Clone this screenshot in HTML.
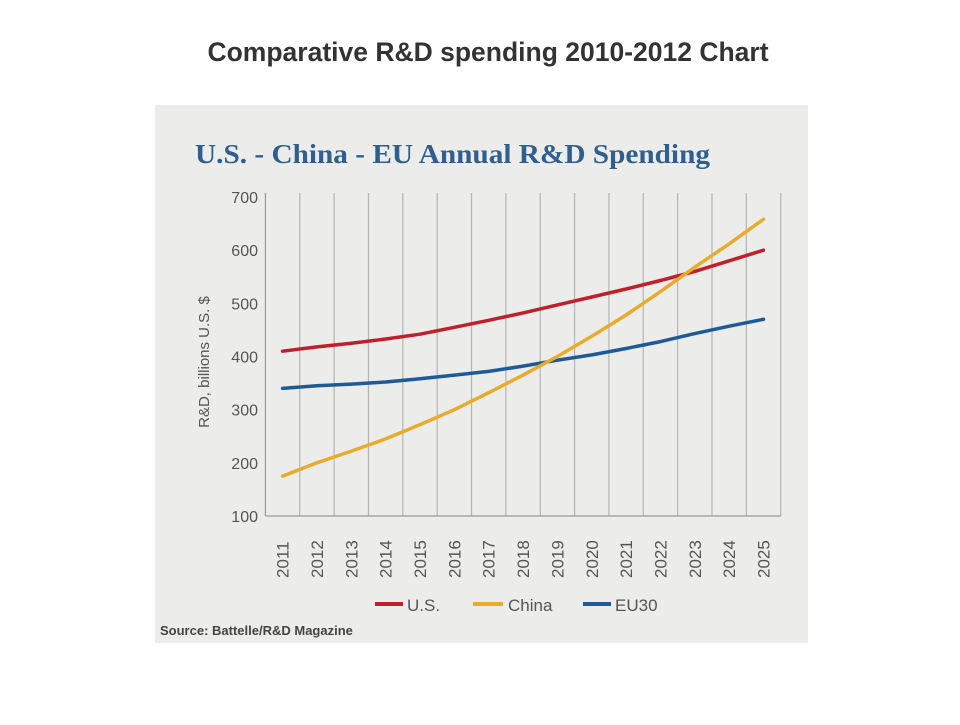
<!DOCTYPE html>
<html><head><meta charset="utf-8"><style>
body{margin:0;background:#fff;width:960px;height:720px;overflow:hidden;font-family:"Liberation Sans",sans-serif}
</style></head><body>
<svg width="960" height="720">
<text x="488" y="61" text-anchor="middle" font-size="26.5" font-weight="bold" fill="#333">Comparative R&amp;D spending 2010-2012 Chart</text>
<rect x="155" y="105" width="653" height="538" fill="#ececea"/>
<text x="195" y="163" font-family="Liberation Serif,serif" font-weight="bold" font-size="27" fill="#2e5f8e" textLength="515" lengthAdjust="spacingAndGlyphs">U.S. - China - EU Annual R&amp;D Spending</text>
<g id="grid"></g><g id="lines"></g>
<text transform="translate(209,362) rotate(-90)" text-anchor="middle" font-size="15" fill="#555">R&amp;D, billions U.S. $</text>
<g>
<line x1="375" y1="604" x2="403" y2="604" stroke="#c0202c" stroke-width="4"/><text x="407" y="611" font-size="17" font-weight="500" fill="#555">U.S.</text>
<line x1="473" y1="604" x2="503" y2="604" stroke="#e8ac2c" stroke-width="4"/><text x="508" y="611" font-size="17" font-weight="500" fill="#555">China</text>
<line x1="583" y1="604" x2="611" y2="604" stroke="#1f5a96" stroke-width="4"/><text x="615" y="611" font-size="17" font-weight="500" fill="#555">EU30</text>
</g>
<text x="160" y="635" font-size="13" font-weight="bold" fill="#444">Source: Battelle/R&amp;D Magazine</text>
</svg>
<script>
const years=[2011,2012,2013,2014,2015,2016,2017,2018,2019,2020,2021,2022,2023,2024,2025];
const usValues=[410,418,425,433,442,455,468,482,497,512,527,543,560,580,600];
const chinaValues=[175,200,222,245,272,300,332,365,400,438,478,522,568,612,658];
const euValues=[340,345,348,352,358,365,372,382,393,403,415,428,443,457,470];
const yTicks=[100,200,300,400,500,600,700];
const x0=282.6,step=34.35,yTop=197,yBot=516;
const xs=i=>x0+i*step;
const ys=v=>yBot-(v-100)*(yBot-yTop)/600;
const NS='http://www.w3.org/2000/svg';
const grid=document.getElementById('grid'),lines=document.getElementById('lines');
function mk(t,a,p){const e=document.createElementNS(NS,t);for(const k in a)e.setAttribute(k,a[k]);p.appendChild(e);return e;}
for(let i=-1;i<years.length;i++){
 const l=mk('line',{x1:xs(i+0.5),x2:xs(i+0.5),y1:yTop-4,y2:yBot,stroke:i<0?'#999':'#b5b5b3','stroke-width':1.2},grid);
 
 
}
const base=mk('line',{x1:xs(-0.5),x2:xs(years.length-0.5),y1:yBot,y2:yBot,stroke:'#999','stroke-width':1.2},grid);


yTicks.forEach(v=>{
 const t=mk('text',{x:258,y:ys(v)+6,'text-anchor':'end','font-size':16,'font-weight':500,fill:'#555'},grid);t.textContent=v;
 
 
});
years.forEach((y,i)=>{
 const t=mk('text',{transform:`translate(${xs(i)+6},${578}) rotate(-90)`,'font-size':17,'font-weight':500,fill:'#555'},grid);t.textContent=y;
 
 
});
function path(vals,color,name){
 let d='';vals.forEach((v,i)=>{d+=(i?'L':'M')+xs(i).toFixed(1)+','+ys(v).toFixed(1);});
 const p=mk('path',{d,fill:'none',stroke:color,'stroke-width':3.5,'stroke-linejoin':'round','stroke-linecap':'round'},lines);
 
 
}
path(euValues,'#1f5a96','eu30-line');
path(usValues,'#c0202c','us-line');
path(chinaValues,'#e8ac2c','china-line');
</script>
</body></html>
